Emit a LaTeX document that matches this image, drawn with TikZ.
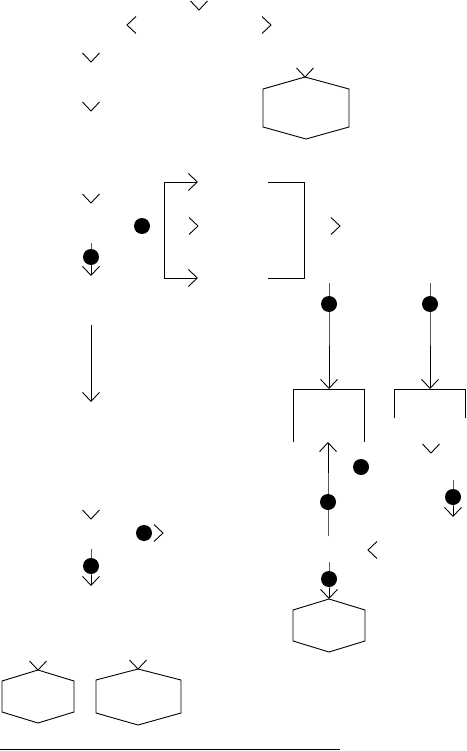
\documentclass[tikz,border=0pt]{standalone}
\usetikzlibrary{arrows.meta}
\begin{document}
\begin{tikzpicture}[x=1pt,y=-1pt,line width=0.9pt,
  dotnode/.style={circle,fill=black,draw=none,minimum size=16pt,inner sep=0pt},
  barb/.style={-{Straight Barb[length=9pt,width=17pt,line width=0.9pt]}},
  chevd/.pic={\draw (-8.5,-9) -- (0,0) -- (8.5,-9);},
  chevu/.pic={\draw (-8.5,9) -- (0,0) -- (8.5,9);},
  chevr/.pic={\draw (-9,-8.5) -- (0,0) -- (-9,8.5);},
  chevl/.pic={\draw (9,-8.5) -- (0,0) -- (9,8.5);}]
\fill[white] (0,0) rectangle (466,751);
\useasboundingbox (0,0) rectangle (466,751);

% standalone chevrons
\pic at (199,10) {chevd};
\pic at (127,25) {chevl};
\pic at (271,25) {chevr};
\pic at (91,62) {chevd};
\pic at (91,111) {chevd};
\pic at (91,203) {chevd};
\pic at (198,226) {chevr};
\pic at (340,226) {chevr};
\pic at (431,453) {chevd};
\pic at (368,550) {chevl};
\pic at (91,519) {chevd};
\pic at (163,533) {chevr};

% hexagon A (top right)
\coordinate (hAt) at (305,77);
\draw (hAt) -- (263,89) -- (263,127) -- (306,139) -- (349,127) -- (349,89) -- cycle;
\pic at (hAt) {chevd};

% dots
\node[dotnode] (d1) at (142,226) {};
\node[dotnode] (d2) at (361,467) {};
\node[dotnode] (d3) at (144,533) {};

% brackets
\coordinate (bl1) at (198,182);
\coordinate (bl2) at (198,278);
\draw[barb] (164,278) -- (164,182) -- (bl1);
\draw[barb] (164,278) -- (bl2);
\draw (268,182) -- (304,182) -- (304,278) -- (268,278);
\draw (293,442) -- (293,389) -- (364,389) -- (364,442);
\draw (394,418) -- (394,389) -- (465.5,389) -- (465.5,418);

% left column connectors
\coordinate (a1s) at (91,243);
\node[dotnode] (a1d) at (91,257) {};
\coordinate (a1e) at (91,276);
\draw[barb] (a1s) -- (a1d.center) -- (a1e);

\coordinate (a2s) at (91,325);
\coordinate (a2e) at (91,402);
\draw[barb] (a2s) -- (a2e);

\coordinate (a3s) at (91,549);
\node[dotnode] (a3d) at (91,566) {};
\coordinate (a3e) at (91,586);
\draw[barb] (a3s) -- (a3d.center) -- (a3e);

% right columns
\coordinate (c1s) at (329,283);
\node[dotnode] (c1d) at (329,304) {};
\coordinate (c1e) at (329,389);
\draw[barb] (c1s) -- (c1d.center) -- (c1e);

\coordinate (c2s) at (430,283);
\node[dotnode] (c2d) at (430,304) {};
\coordinate (c2e) at (430,389);
\draw[barb] (c2s) -- (c2d.center) -- (c2e);

\coordinate (u1s) at (328,536);
\node[dotnode] (u1d) at (328,502) {};
\coordinate (u1e) at (328,442);
\draw[barb] (u1s) -- (u1d.center) -- (u1e);

\coordinate (r1s) at (453,480);
\node[dotnode] (r1d) at (453,497) {};
\coordinate (r1e) at (453,517);
\draw[barb] (r1s) -- (r1d.center) -- (r1e);

% hexagon C
\coordinate (hCt) at (329,599);
\coordinate (h3s) at (329,562);
\node[dotnode] (h3d) at (329,579) {};
\draw[barb] (h3s) -- (h3d.center) -- (hCt);
\draw (hCt) -- (293,610) -- (293,641) -- (329,652) -- (365,641) -- (365,610) -- cycle;

% bottom hexagons
\coordinate (h1t) at (38,670);
\draw (h1t) -- (2,681) -- (2,712) -- (38,723) -- (74,712) -- (74,681) -- cycle;
\pic at (h1t) {chevd};
\coordinate (h2t) at (138,669);
\draw (h2t) -- (96,680) -- (96,713) -- (138,725) -- (181,713) -- (181,680) -- cycle;
\pic at (h2t) {chevd};

% bottom line
\coordinate (bL) at (0,749);
\coordinate (bR) at (340,749);
\draw (bL) -- (bR);
\end{tikzpicture}
\end{document}
